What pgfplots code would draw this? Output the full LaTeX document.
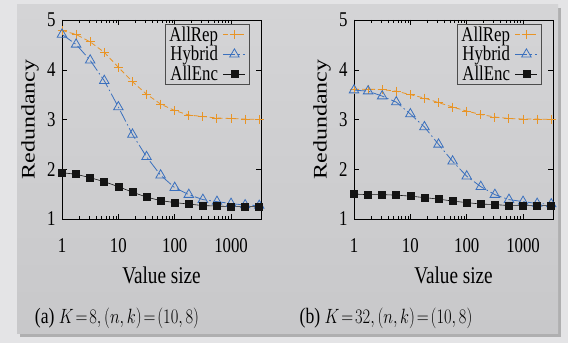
\documentclass[border=0pt]{standalone}
\usepackage{pgfplots}
\pgfplotsset{compat=1.18}
\usepackage{pgfplotstable}
\usepackage{fontspec}
\setmainfont{Liberation Serif}[FakeStretch=0.8]
\newfontfamily\plainserif{Liberation Serif}
\definecolor{outerbg}{RGB}{228,228,230}
\definecolor{cardtop}{RGB}{212,212,214}
\definecolor{cardbot}{RGB}{200,200,202}
\definecolor{repcol}{RGB}{232,148,38}
\definecolor{hybcol}{RGB}{58,112,190}
\definecolor{enccol}{RGB}{20,20,20}

\pgfplotstableread{
x rep hyb enc
1 4.79 4.71 1.93
1.7783 4.71 4.51 1.90
3.1623 4.56 4.19 1.83
5.6234 4.35 3.78 1.75
10 4.05 3.25 1.65
17.783 3.76 2.70 1.54
31.623 3.51 2.25 1.44
56.234 3.31 1.88 1.37
100 3.18 1.63 1.33
177.83 3.09 1.49 1.30
316.23 3.06 1.39 1.27
562.34 3.03 1.35 1.26
1000 3.02 1.31 1.25
1778.3 3.01 1.28 1.25
3162.3 3.00 1.27 1.25
}\dataA

\pgfplotstableread{
x rep hyb enc
1 3.61 3.59 1.50
1.7783 3.61 3.57 1.49
3.1623 3.60 3.47 1.49
5.6234 3.57 3.35 1.48
10 3.50 3.11 1.46
17.783 3.43 2.85 1.43
31.623 3.34 2.50 1.40
56.234 3.25 2.16 1.36
100 3.17 1.86 1.33
177.83 3.10 1.65 1.30
316.23 3.05 1.49 1.29
562.34 3.02 1.39 1.27
1000 3.01 1.35 1.27
1778.3 3.01 1.31 1.27
3162.3 3.00 1.30 1.27
}\dataB

\pgfplotsset{
  myaxstyle/.style={
    scale only axis, width=199bp, height=199bp,
    xmin=1, xmax=3400, ymin=1, ymax=5,
    xtick={1,10,100,1000}, xticklabels={1,10,100,1000},
    ytick={1,2,3,4,5},
    /pgf/number format/assume math mode=true,
    tick label style={font=\fontsize{21bp}{23bp}\selectfont, black},
    xticklabel style={anchor=base, yshift=-33bp},
    yticklabel style={anchor=east, xshift=-3bp},
    every axis x label/.style={at={(axis description cs:0.5,-0.281)}, anchor=center},
    every axis y label/.style={at={(axis description cs:-0.161,0.5)}, rotate=90, anchor=center},
    label style={font=\fontsize{24bp}{26bp}\selectfont},
    xlabel={Value size},
    ylabel={\scalebox{1}[0.8]{\plainserif Redundancy}},
    axis line style={black, line width=0.6bp},
    tick style={black, line width=0.5bp},
    major tick length=5bp, minor tick length=3bp,
    legend style={at={(axis description cs:0.94,0.98)}, anchor=north east,
      draw=black!70, line width=0.5bp, fill=none,
      font=\fontsize{21bp}{22bp}\selectfont,
      inner xsep=3bp, inner ysep=1.5bp, row sep=1.5bp, column sep=4bp,
      nodes={inner sep=1bp}},
    legend cell align=right, legend plot pos=right,
    legend image code/.code={\draw[mark repeat=2,mark phase=2] plot coordinates {(0bp,0bp)(11bp,0bp)(22bp,0bp)};},
  },
  repst/.style={repcol, line width=0.8bp, dash pattern=on 5bp off 3bp, mark=+, mark size=4.5bp, mark options={solid, line width=1bp}},
  hybst/.style={hybcol, line width=0.8bp, dash pattern=on 12bp off 3bp on 1.5bp off 3bp, mark=triangle, mark size=5.5bp, mark options={solid, fill=cardtop, line width=0.8bp}},
  encst/.style={enccol, line width=0.6bp, mark=square*, mark size=3.5bp, mark options={solid}},
}

\begin{document}
\begin{tikzpicture}[x=1bp,y=1bp]
\path[use as bounding box] (0,0) rectangle (568,343);
\fill[outerbg] (0,0) rectangle (568,343);
\fill[black!45, opacity=0.6] (20,6) rectangle (561,335);
\shade[top color=cardtop, bottom color=cardbot] (17,10) rectangle (558,338);

\begin{semilogxaxis}[myaxstyle, at={(62bp,124bp)}, anchor=south west]
\addplot[repst] table[x=x,y=rep]{\dataA};
\addlegendentry{AllRep}
\addplot[hybst] table[x=x,y=hyb]{\dataA};
\addlegendentry{Hybrid}
\addplot[encst] table[x=x,y=enc]{\dataA};
\addlegendentry{AllEnc}
\end{semilogxaxis}

\begin{semilogxaxis}[myaxstyle, at={(354bp,124bp)}, anchor=south west]
\addplot[repst] table[x=x,y=rep]{\dataB};
\addlegendentry{AllRep}
\addplot[hybst] table[x=x,y=hyb]{\dataB};
\addlegendentry{Hybrid}
\addplot[encst] table[x=x,y=enc]{\dataB};
\addlegendentry{AllEnc}
\end{semilogxaxis}

\node[anchor=center, font=\fontsize{22bp}{24bp}\selectfont] at (117,25) {\scalebox{0.8}[1]{\plainserif (a) $K\!=\!8,(n,k)\!=\!(10,8)$}};
\node[anchor=center, font=\fontsize{22bp}{24bp}\selectfont] at (386,25) {\scalebox{0.8}[1]{\plainserif (b) $K\!=\!32,(n,k)\!=\!(10,8)$}};
\end{tikzpicture}
\end{document}
